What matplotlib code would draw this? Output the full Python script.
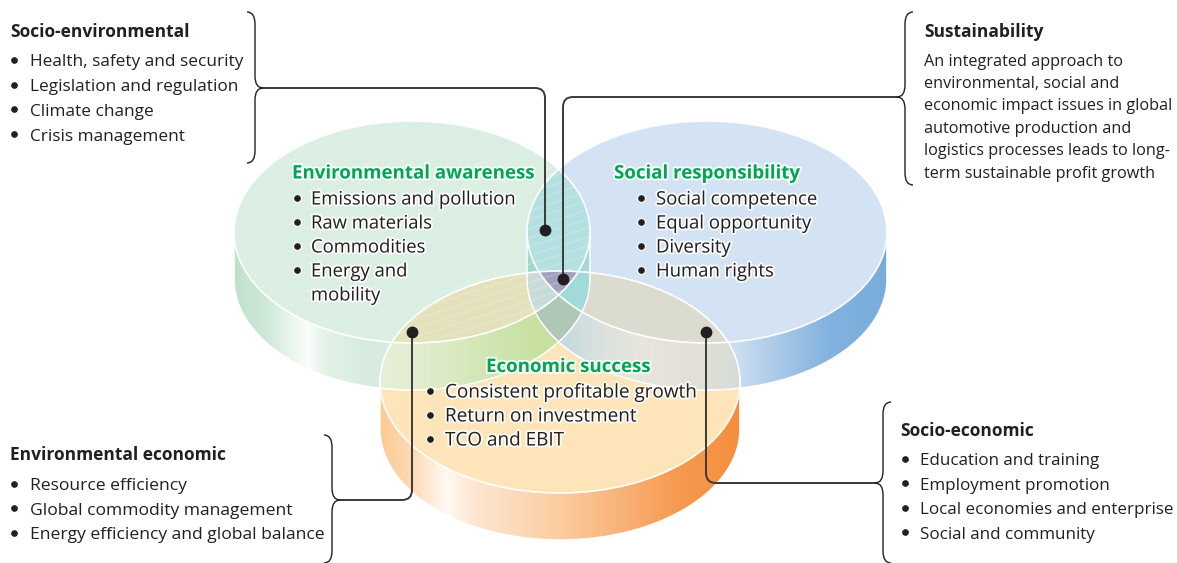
import numpy as np
import matplotlib
matplotlib.use("Agg")
import matplotlib.pyplot as plt
from matplotlib.patches import Ellipse, PathPatch
from matplotlib.path import Path
from matplotlib.colors import to_rgb
import matplotlib.patheffects as pe

# ------------------------------------------------------------------ content
circle_titles = ["Environmental awareness", "Social responsibility", "Economic success"]
env_items = ["Emissions and pollution", "Raw materials", "Commodities", "Energy and\nmobility"]
soc_items = ["Social competence", "Equal opportunity", "Diversity", "Human rights"]
eco_items = ["Consistent profitable growth", "Return on investment", "TCO and EBIT"]

socio_env_title = "Socio-environmental"
socio_env_items = ["Health, safety and security", "Legislation and regulation",
                   "Climate change", "Crisis management"]
sust_title = "Sustainability"
sust_lines = ["An integrated approach to", "environmental, social and",
              "economic impact issues in global", "automotive production and",
              "logistics processes leads to long-", "term sustainable profit growth"]
env_eco_title = "Environmental economic"
env_eco_items = ["Resource efficiency", "Global commodity management",
                 "Energy efficiency and global balance"]
socio_eco_title = "Socio-economic"
socio_eco_items = ["Education and training", "Employment promotion",
                   "Local economies and enterprise", "Social and community"]

# ------------------------------------------------------------------ layout / style
W, H = 1177, 563
FONT = ["Open Sans", "DejaVu Sans"]
TXT = "#231f20"
GREEN_T = "#00a651"
LINE = "#3a3a3a"

# disks: (cx, cy, rx, ry)
G = (412, 232, 178, 111)
B = (707, 232, 180, 111)
O = (560, 382, 180, 111)
DEPTH = 47

fig = plt.figure(figsize=(W / 100, H / 100), dpi=100)
ax = fig.add_axes([0, 0, 1, 1])
ax.set_xlim(0, W)
ax.set_ylim(H, 0)
ax.axis("off")

# ------------------------------------------------------------------ raster of disks
S = 2
xs = (np.arange(W * S) + 0.5) / S
ys = (np.arange(H * S) + 0.5) / S
X, Y = np.meshgrid(xs, ys)


def state(d):
    cx, cy, rx, ry = d
    u = (X - cx) / rx
    face = u ** 2 + ((Y - cy) / ry) ** 2 <= 1
    inside = np.abs(u) <= 1
    yb = cy + ry * np.sqrt(np.clip(1 - u ** 2, 0, None))
    side = inside & (Y > yb) & (Y <= yb + DEPTH) & ~face
    st = np.zeros(X.shape, dtype=np.int8)
    st[side] = 2
    st[face] = 1
    return st


g, b, o = state(G), state(B), state(O)


def grad_row(stops):
    px, cols = zip(*stops)
    cols = np.array([to_rgb(c) for c in cols])
    row = np.stack([np.interp(xs, px, cols[:, k]) for k in range(3)], -1)
    return np.broadcast_to(row[None, :, :], (H * S, W * S, 3))


green_side = [(230, "#bfe0cb"), (265, "#cde8d6"), (295, "#eef8f1"), (308, "#fbfdfb"),
              (325, "#e4f2e8"), (360, "#d8ede0"), (600, "#d5ebdc")]
blue_side = [(525, "#d3e2f3"), (735, "#cddff2"), (780, "#a8c8e8"), (830, "#82b2df"),
             (890, "#78acdc")]
orange_side = [(378, "#fdc88f"), (415, "#fedcb9"), (447, "#fff9f2"), (475, "#fee6d2"),
               (550, "#fbd0a6"), (615, "#f9b57c"), (680, "#f7994f"), (742, "#f68e3b")]
lime = [(378, "#e6f0da"), (430, "#dfecca"), (480, "#d3e7b7"), (545, "#c6e0a0"),
        (600, "#c6e0a0")]
blue_orange = [(525, "#c4d9dc"), (570, "#c8dcdf"), (605, "#dce2de"), (645, "#e8e6dc"),
               (700, "#e2e0d6"), (742, "#d6dcd8")]

img = np.ones((H * S, W * S, 3))


def put(mask, col):
    if isinstance(col, str):
        img[mask] = np.array(to_rgb(col))
    else:
        img[mask] = grad_row(col)[mask]


put((g == 2) & (b == 0) & (o == 0), green_side)
put((b == 2) & (g == 0) & (o == 0), blue_side)
put((g == 1) & (b == 0) & (o == 0), "#daeee2")
put((b == 1) & (g == 0) & (o == 0), "#d4e3f3")
put((o == 1) & (g == 0) & (b == 0), "#fde4b9")
put((g == 1) & (b == 1) & (o == 0), "#b4e0e1")
put((g == 1) & (o == 1) & (b == 0), "#e4e2bd")
put((b == 1) & (o == 1) & (g == 0), "#dcdbcf")
put((g == 1) & (b == 1) & (o == 1), "#a0a2bc")
put((g == 1) & (b == 2) & (o == 1), "#c8dcd7")
put((g == 1) & (b == 2) & (o == 0), "#a1d8c9")
put((g == 2) & (b == 1) & (o == 1), "#a0dada")
put((g == 2) & (b == 1) & (o == 0), "#a2d9d8")
put((g == 2) & (b == 2), "#afc8b6")
put((g == 2) & (b == 0) & (o == 1), lime)
put((b == 2) & (g == 0) & (o == 1), blue_orange)
put(o == 2, orange_side)

img = img.reshape(H, S, W, S, 3).mean(axis=(1, 3))
ax.imshow(img, extent=(0, W, H, 0), interpolation="none", zorder=0)

# faint hatch on green face
gclip = Ellipse((G[0], G[1]), 2 * G[2], 2 * G[3], transform=ax.transData)
for y0 in np.arange(100, 480, 9):
    ln, = ax.plot([200, 620], [y0, y0 - 0.32 * 420], color="white", lw=0.5,
                  alpha=0.35, zorder=1)
    ln.set_clip_path(gclip)

# white outlines of faces and sides
for (cx, cy, rx, ry) in (G, B, O):
    t = np.linspace(0, np.pi, 200)
    sx = cx + rx * np.cos(t)
    sy = cy + DEPTH + ry * np.sin(t)
    ax.plot(np.r_[cx + rx, sx, cx - rx], np.r_[cy, sy, cy], color="white", lw=1.1, zorder=2)
    ax.add_patch(Ellipse((cx, cy), 2 * rx, 2 * ry, fill=False, ec="white", lw=1.2, zorder=2))


# ------------------------------------------------------------------ braces & connectors
def brace(xv, yt, yb, ym, d, rh=8, rv=12):
    verts = [(xv - d * rh, yt), (xv, yt), (xv, yt + rv), (xv, ym - rv), (xv, ym), (xv + d * rh, ym),
             (xv + d * rh, ym), (xv, ym), (xv, ym + rv), (xv, yb - rv), (xv, yb), (xv - d * rh, yb)]
    codes = [Path.MOVETO, Path.CURVE3, Path.CURVE3, Path.LINETO, Path.CURVE3, Path.CURVE3,
             Path.MOVETO, Path.CURVE3, Path.CURVE3, Path.LINETO, Path.CURVE3, Path.CURVE3]
    ax.add_patch(PathPatch(Path(verts, codes), fill=False, ec=TXT, lw=1.0, zorder=5))


def connector(dot, yc, xe, r=10):
    x0, y0 = dot
    sy = np.sign(yc - y0)
    sx = np.sign(xe - x0)
    verts = [(x0, y0), (x0, yc - sy * r), (x0, yc), (x0 + sx * r, yc), (xe, yc)]
    codes = [Path.MOVETO, Path.LINETO, Path.CURVE3, Path.CURVE3, Path.LINETO]
    ax.add_patch(PathPatch(Path(verts, codes), fill=False, ec=LINE, lw=1.4, zorder=5,
                           capstyle="butt"))
    ax.plot([x0], [y0], "o", ms=7.5, color=TXT, zorder=6)


brace(255, 12, 163, 88, +1)
brace(905, 12, 185, 97, -1)
brace(332, 435, 563, 500, +1)
brace(883, 402, 563, 483, -1)

connector((545, 230), 88, 263)
connector((563, 279), 97, 897)
connector((412, 332), 500, 340)
connector((706, 332), 483, 875)

# ------------------------------------------------------------------ text
fig.canvas.draw()
rend = fig.canvas.get_renderer()


def fit(s, target, weight="normal"):
    t = ax.text(0, 0, s, fontsize=10, family=FONT, fontweight=weight)
    w = t.get_window_extent(renderer=rend).width
    t.remove()
    return 10 * target / w


head_fs = fit("Socio-environmental", 180, "bold")
green_fs = fit("Environmental awareness", 243, "bold")

glow = [pe.withStroke(linewidth=2.6, foreground="white", alpha=0.9)]


def block(hx, hy, title, items, bx, tx, y1, gap, fs, incircle=False, bullets=True):
    kw = dict(family=FONT, va="baseline", zorder=8)
    if incircle:
        kw["path_effects"] = glow
    ax.text(hx, hy, title, fontsize=green_fs if incircle else head_fs, fontweight="bold",
            color=GREEN_T if incircle else TXT, ha="left", **kw)
    y = y1
    for it in items:
        for k, part in enumerate(it.split("\n")):
            if bullets and k == 0:
                if incircle:
                    ax.plot([bx], [y - 6.5], "o", ms=5.2, color="white", zorder=7.5)
                ax.plot([bx], [y - 6.5], "o", ms=3.8, color=TXT, zorder=8)
            ax.text(tx, y, part, fontsize=fs, color=TXT, ha="left", **kw)
            y += gap


block(292, 178.5, circle_titles[0], env_items, 297, 311, 204.5, 24,
      fit("Emissions and pollution", 205), incircle=True)
block(614, 178.5, circle_titles[1], soc_items, 641, 656, 204.5, 24,
      fit("Social competence", 161), incircle=True)
block(486, 372, circle_titles[2], eco_items, 430, 445, 397.5, 24,
      fit("Consistent profitable growth", 252), incircle=True)

block(10, 37, socio_env_title, socio_env_items, 14, 30, 66.5, 24.7,
      fit("Health, safety and security", 213))
block(924, 37, sust_title, sust_lines, 0, 924, 65.5, 22.45,
      fit("economic impact issues in global", 249), bullets=False)
block(10, 460, env_eco_title, env_eco_items, 14, 30, 490, 24.6,
      fit("Energy efficiency and global balance", 295))
block(900, 436, socio_eco_title, socio_eco_items, 905, 920, 465, 24.6,
      fit("Local economies and enterprise", 253))

fig.savefig("out.png", dpi=100)
